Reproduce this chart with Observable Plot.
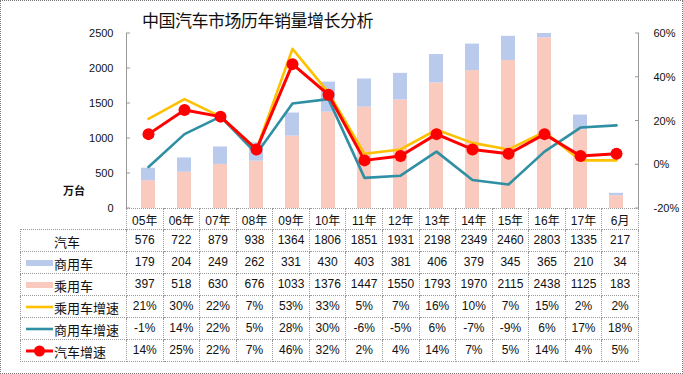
<!DOCTYPE html>
<html><head><meta charset="utf-8">
<script src="https://cdn.jsdelivr.net/npm/d3@7"></script>
<script src="https://cdn.jsdelivr.net/npm/@observablehq/plot@0.6"></script>
<style>
body{margin:0;background:#fff;}
#wrap{position:relative;width:683px;height:374px;overflow:hidden;font-family:"Liberation Sans","Noto Sans CJK SC",sans-serif;color:#111;}
#border{position:absolute;left:0;top:0;width:681px;height:372px;border:1px dotted #777;pointer-events:none;}
#title{position:absolute;left:142px;top:11px;font-size:17px;line-height:1;letter-spacing:-0.5px;font-family:"Noto Sans CJK SC",sans-serif;color:#111;white-space:nowrap;}
#unit{position:absolute;left:63px;top:182px;font-size:11px;font-weight:bold;font-family:"Noto Sans CJK SC",sans-serif;}
#chart{position:absolute;left:0;top:0;}
#tbl{position:absolute;left:20px;top:208px;border-collapse:collapse;table-layout:fixed;font-size:12px;}
#tbl td{border:1px dotted #999;padding:0;text-align:center;white-space:nowrap;overflow:hidden;}
#tbl td.lab{text-align:left;font-size:13px;font-family:"Noto Sans CJK SC",sans-serif;}
#tbl tr.head td.blank{border:none;}
.sw{display:inline-block;vertical-align:middle;width:27px;margin-left:5px;margin-right:1px;position:relative;}
</style></head>
<body>
<div id="wrap">
  <div id="chart"></div>
  <div id="title">中国汽车市场历年销量增长分析</div>
  <div id="unit">万台</div>
  <table id="tbl"></table>
  <div id="border"></div>
</div>
<script>
const categories = ["05年","06年","07年","08年","09年","10年","11年","12年","13年","14年","15年","16年","17年","6月"];
const total = [576,722,879,938,1364,1806,1851,1931,2198,2349,2460,2803,1335,217];
const commercial = [179,204,249,262,331,430,403,381,406,379,345,365,210,34];
const passenger = [397,518,630,676,1033,1376,1447,1550,1793,1970,2115,2438,1125,183];
const passengerGrowth = [21,30,22,7,53,33,5,7,16,10,7,15,2,2];
const commercialGrowth = [-1,14,22,5,28,30,-6,-5,6,-7,-9,6,17,18];
const totalGrowth = [14,25,22,7,46,32,2,4,14,7,5,14,4,5];
const leftTicks = [0,500,1000,1500,2000,2500];
const rightTicks = [-20,0,20,40,60];

const colors = {passenger:"#F9CABD", commercial:"#BACAEC", pg:"#FFC000", cg:"#2F8FA3", tg:"#FF0000"};
const yMax = 2500, gMin = -20, gMax = 60;
const g2y = g => (g - gMin) / (gMax - gMin) * yMax;
const y2g = v => v / yMax * (gMax - gMin) + gMin;

const bars = categories.map((c,i)=>({c, p:passenger[i], s:passenger[i]+commercial[i]}));
const growthRows = (arr) => categories.map((c,i)=>({c, v:g2y(arr[i])}));

const chart = Plot.plot({
  width:683, height:209,
  marginLeft:126, marginRight:45, marginTop:33, marginBottom:1,
  x:{domain:categories, paddingInner:0.6, paddingOuter:0.3, axis:null},
  y:{domain:[0,yMax], axis:null},
  style:{fontFamily:"Liberation Sans, sans-serif", fontSize:"11px", color:"#111", background:"transparent", overflow:"visible"},
  marks:[
    Plot.barY(bars,{x:"c", y1:0, y2:"p", fill:colors.passenger, clip:true}),
    Plot.barY(bars,{x:"c", y1:"p", y2:"s", fill:colors.commercial, clip:true}),
    Plot.axisY({anchor:"left", ticks:leftTicks, tickSize:0, tickPadding:13, fontSize:11, tickFormat:d=>String(d)}),
    Plot.axisY({anchor:"right", ticks:rightTicks.map(g2y), tickSize:0, tickPadding:15, fontSize:11, tickFormat:v=>Math.round(y2g(v))+"%"}),
    Plot.line(growthRows(commercialGrowth),{x:"c", y:"v", stroke:colors.cg, strokeWidth:2.6}),
    Plot.line(growthRows(passengerGrowth),{x:"c", y:"v", stroke:colors.pg, strokeWidth:2.6}),
    Plot.line(growthRows(totalGrowth),{x:"c", y:"v", stroke:colors.tg, strokeWidth:3}),
    Plot.dot(growthRows(totalGrowth),{x:"c", y:"v", r:6, fill:colors.tg, stroke:"none"})
  ]
});
document.getElementById("chart").appendChild(chart);

// axis lines and inward ticks, from the scales
const xs = chart.scale("x"), ys = chart.scale("y");
const [x0,x1] = xs.range, [yb,yt] = ys.range;
const svg = d3.select(chart);
const g = svg.append("g").attr("stroke","#999").attr("stroke-width",1);
g.append("line").attr("x1",x0+0.5).attr("x2",x0+0.5).attr("y1",yt).attr("y2",yb);
g.append("line").attr("x1",x1+0.5).attr("x2",x1+0.5).attr("y1",yt).attr("y2",yb);
leftTicks.forEach(t=>{const y=ys.apply(t);g.append("line").attr("x1",x0).attr("x2",x0+4).attr("y1",y).attr("y2",y);});
rightTicks.forEach(t=>{const y=ys.apply(g2y(t));g.append("line").attr("x1",x1-3).attr("x2",x1+1).attr("y1",y).attr("y2",y);});

// data table
const step = (x1-x0)/categories.length;
const tbl = d3.select("#tbl");
const cg = tbl.append("colgroup");
cg.append("col").style("width",(x0-20)+"px");
categories.forEach(()=>cg.append("col").style("width",step+"px"));
const head = tbl.append("tr").attr("class","head").style("height","21px");
head.append("td").attr("class","blank");
categories.forEach(c=>head.append("td").text(c));

function swatch(kind){
  const svgs = {
    commercial:`<svg width="27" height="8"><rect x="0" y="1" width="27" height="6" fill="${colors.commercial}"/></svg>`,
    passenger:`<svg width="27" height="8"><rect x="0" y="1" width="27" height="6" fill="${colors.passenger}"/></svg>`,
    pg:`<svg width="27" height="8"><line x1="0" x2="27" y1="4" y2="4" stroke="${colors.pg}" stroke-width="2.6"/></svg>`,
    cg:`<svg width="27" height="8"><line x1="0" x2="27" y1="4" y2="4" stroke="${colors.cg}" stroke-width="2.6"/></svg>`,
    tg:`<svg width="27" height="12"><line x1="0" x2="27" y1="6" y2="6" stroke="${colors.tg}" stroke-width="3"/><circle cx="13.5" cy="6" r="5.5" fill="${colors.tg}"/></svg>`
  };
  return kind==="none" ? '<span class="sw"></span>' : `<span class="sw" style="line-height:0">${svgs[kind]}</span>`;
}
const rows = [
  ["汽车","none", total, v=>v],
  ["商用车","commercial", commercial, v=>v],
  ["乘用车","passenger", passenger, v=>v],
  ["乘用车增速","pg", passengerGrowth, v=>v+"%"],
  ["商用车增速","cg", commercialGrowth, v=>v+"%"],
  ["汽车增速","tg", totalGrowth, v=>v+"%"]
];
rows.forEach(([name,kind,vals,fmt])=>{
  const tr = tbl.append("tr").style("height","21.6px");
  tr.append("td").attr("class","lab").html(swatch(kind)+`<span style="vertical-align:middle">${name}</span>`);
  vals.forEach(v=>tr.append("td").text(fmt(v)));
});
</script>
</body></html>
